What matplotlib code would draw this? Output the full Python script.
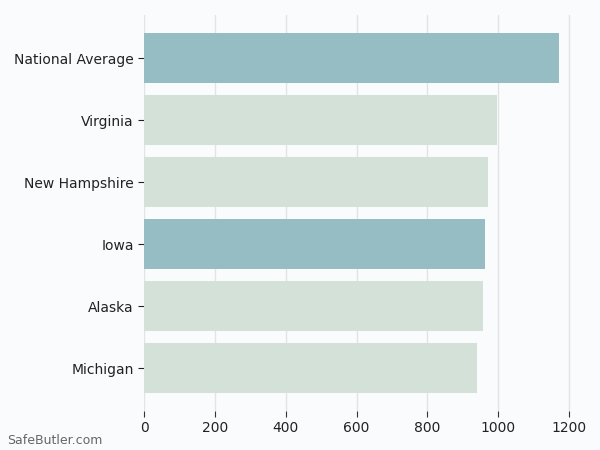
import matplotlib
matplotlib.use("Agg")
import matplotlib.pyplot as plt

STATES: list[str] = ["National Average", "Virginia", "New Hampshire", "Iowa", "Alaska", "Michigan"]
COSTS: list[float] = [1173, 998, 973, 964, 958, 941]
HIGHLIGHT: list[bool] = [True, False, False, True, False, False]

TEAL = "#96bcc4"
SAGE = "#d4e1d9"
BG = "#fafbfd"

fig = plt.figure(figsize=(6, 4.5), dpi=100, facecolor=BG)
ax = fig.add_axes([0.2405, 0.0867, 0.726, 0.8793], facecolor=BG)

colors = [TEAL if h else SAGE for h in HIGHLIGHT]
ax.barh(STATES, COSTS, height=0.8, color=colors, zorder=2)
ax.invert_yaxis()

ax.set_xticks([0, 200, 400, 600, 800, 1000, 1200])
ax.grid(axis="x", color="#e3e3e6", linewidth=1, zorder=0)
for side in ("top", "right", "bottom", "left"):
    ax.spines[side].set_visible(False)
ax.tick_params(axis="both", colors="#222222", labelsize=10, length=4)
ax.tick_params(axis="x", color="#333333")

fig.text(0.012, 0.013, "SafeButler.com", color="#666666", fontsize=9)

fig.savefig("out.png", dpi=100, facecolor=BG)
